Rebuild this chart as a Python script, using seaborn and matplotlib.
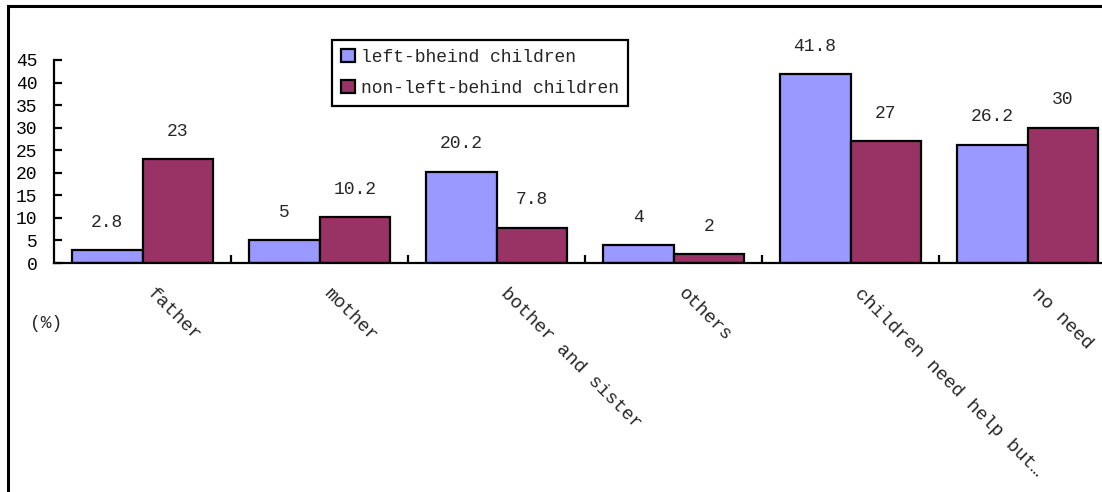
import matplotlib
matplotlib.use("Agg")
import matplotlib.pyplot as plt
import matplotlib.patches as mpatches
import matplotlib.transforms as mtransforms
import seaborn as sns
import pandas as pd

# Who helps children: share of answers per helper, by group (%)
categories = ["father", "mother", "bother and sister", "others",
              "children need help but…", "no need"]
left_behind = [2.8, 5, 20.2, 4, 41.8, 26.2]
non_left_behind = [23, 10.2, 7.8, 2, 27, 30]
series_names = ["left-bheind children", "non-left-behind children"]
y_ticks = [0, 5, 10, 15, 20, 25, 30, 35, 40, 45]

df = pd.DataFrame({
    "category": categories * 2,
    "value": left_behind + non_left_behind,
    "group": [series_names[0]] * len(categories) + [series_names[1]] * len(categories),
})

sns.set_style("white")
plt.rcParams["font.family"] = ["Liberation Mono", "DejaVu Sans Mono"]
plt.rcParams["font.size"] = 13

W, H = 1102, 492
fig = plt.figure(figsize=(W / 100, H / 100), dpi=100)
fig.patch.set_facecolor("white")

# axes: y-axis at x=54 px, baseline at y=263 px, one category = 177 px
left_px, base_px, top_px, cat_px = 54, 263, 60, 177
ax = fig.add_axes([left_px / W, (H - base_px) / H,
                   cat_px * len(categories) / W, (base_px - top_px) / H])

palette = {series_names[0]: "#9999FF", series_names[1]: "#993366"}
sns.barplot(data=df, x="category", y="value", hue="group", order=categories,
            hue_order=series_names, palette=palette, width=0.8, saturation=1,
            edgecolor="black", linewidth=1.6, ax=ax, legend=False)

ax.set_xlim(-0.5, len(categories) - 0.5)
ax.set_ylim(0, 45)
ax.set_yticks(y_ticks)
ax.set_xlabel("")
ax.set_ylabel("")

for side in ("top", "right"):
    ax.spines[side].set_visible(False)
for side in ("left", "bottom"):
    ax.spines[side].set_linewidth(1.6)
    ax.spines[side].set_color("black")

ax.tick_params(axis="y", left=True, direction="in", length=6, width=1.6,
               pad=12, labelsize=13, colors="black")
# category labels at group centres, tick marks between groups
ax.set_xticks(range(len(categories)))
ax.set_xticklabels(categories, rotation=-45, ha="left", va="top",
                   rotation_mode="anchor", fontsize=13.5)
ax.tick_params(axis="x", which="major", bottom=True, length=0, pad=16)
ax.set_xticks([i + 0.5 for i in range(len(categories) - 1)], minor=True)
ax.tick_params(axis="x", which="minor", bottom=True, direction="in",
               length=6, width=1.6, color="black")
shift = mtransforms.ScaledTranslation(13 / 100, 0, fig.dpi_scale_trans)
for lab in ax.get_xticklabels():
    lab.set_transform(lab.get_transform() + shift)

# value labels above each bar
for cont in ax.containers:
    ax.bar_label(cont, fmt="%g", padding=14, fontsize=13)

# legend
handles = [mpatches.Patch(facecolor=palette[n], edgecolor="black", linewidth=1.6)
           for n in series_names]
leg = fig.legend(handles, series_names, loc="upper left",
                 bbox_to_anchor=(332 / W, 1 - 40 / H), fontsize=13,
                 frameon=True, fancybox=False, framealpha=1,
                 handlelength=0.75, handleheight=0.75, handletextpad=0.35,
                 labelspacing=0.75, borderpad=0.5, borderaxespad=0)
leg.get_frame().set_edgecolor("black")
leg.get_frame().set_linewidth(1.6)

# unit label
fig.text(46 / W, 1 - 323 / H, "(%)", ha="center", va="center", fontsize=13)

# outer chart border
fig.patches.append(mpatches.Rectangle((7.5 / W, -0.2), 1.2, 1.2 - 5.5 / H,
                                      transform=fig.transFigure, fill=False,
                                      edgecolor="black", linewidth=2.2))

fig.savefig("out.png", dpi=100, facecolor="white")
